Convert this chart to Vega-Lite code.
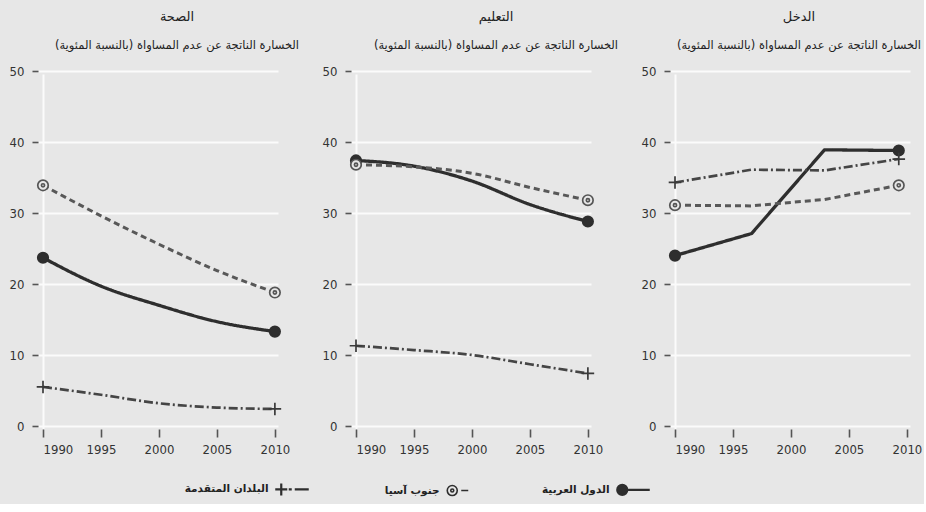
{
  "$schema": "https://vega.github.io/schema/vega-lite/v6.json",
  "background": "#e7e7e7",
  "padding": {"left": 9, "top": 10, "right": 2, "bottom": 4},
  "data": {"values": [
    {"panel": "الصحة", "year": 1990, "value": 23.7, "series": "الدول العربية"},
    {"panel": "الصحة", "year": 1995, "value": 19.7, "series": "الدول العربية"},
    {"panel": "الصحة", "year": 2000, "value": 17.0, "series": "الدول العربية"},
    {"panel": "الصحة", "year": 2005, "value": 14.7, "series": "الدول العربية"},
    {"panel": "الصحة", "year": 2010, "value": 13.3, "series": "الدول العربية"},
    {"panel": "الصحة", "year": 1990, "value": 33.9, "series": "جنوب آسيا"},
    {"panel": "الصحة", "year": 1995, "value": 29.6, "series": "جنوب آسيا"},
    {"panel": "الصحة", "year": 2000, "value": 25.6, "series": "جنوب آسيا"},
    {"panel": "الصحة", "year": 2005, "value": 21.9, "series": "جنوب آسيا"},
    {"panel": "الصحة", "year": 2010, "value": 18.8, "series": "جنوب آسيا"},
    {"panel": "الصحة", "year": 1990, "value": 5.5, "series": "البلدان المتقدمة"},
    {"panel": "الصحة", "year": 1995, "value": 4.4, "series": "البلدان المتقدمة"},
    {"panel": "الصحة", "year": 2000, "value": 3.2, "series": "البلدان المتقدمة"},
    {"panel": "الصحة", "year": 2005, "value": 2.6, "series": "البلدان المتقدمة"},
    {"panel": "الصحة", "year": 2010, "value": 2.4, "series": "البلدان المتقدمة"},
    {"panel": "التعليم", "year": 1990, "value": 37.4, "series": "الدول العربية"},
    {"panel": "التعليم", "year": 1995, "value": 36.6, "series": "الدول العربية"},
    {"panel": "التعليم", "year": 2000, "value": 34.5, "series": "الدول العربية"},
    {"panel": "التعليم", "year": 2005, "value": 31.2, "series": "الدول العربية"},
    {"panel": "التعليم", "year": 2010, "value": 28.8, "series": "الدول العربية"},
    {"panel": "التعليم", "year": 1990, "value": 36.8, "series": "جنوب آسيا"},
    {"panel": "التعليم", "year": 1995, "value": 36.5, "series": "جنوب آسيا"},
    {"panel": "التعليم", "year": 2000, "value": 35.6, "series": "جنوب آسيا"},
    {"panel": "التعليم", "year": 2005, "value": 33.6, "series": "جنوب آسيا"},
    {"panel": "التعليم", "year": 2010, "value": 31.8, "series": "جنوب آسيا"},
    {"panel": "التعليم", "year": 1990, "value": 11.3, "series": "البلدان المتقدمة"},
    {"panel": "التعليم", "year": 1995, "value": 10.7, "series": "البلدان المتقدمة"},
    {"panel": "التعليم", "year": 2000, "value": 10.0, "series": "البلدان المتقدمة"},
    {"panel": "التعليم", "year": 2005, "value": 8.7, "series": "البلدان المتقدمة"},
    {"panel": "التعليم", "year": 2010, "value": 7.4, "series": "البلدان المتقدمة"},
    {"panel": "الدخل", "year": 1990, "value": 24.0, "series": "الدول العربية"},
    {"panel": "الدخل", "year": 1996.6, "value": 27.1, "series": "الدول العربية"},
    {"panel": "الدخل", "year": 2002.9, "value": 38.9, "series": "الدول العربية"},
    {"panel": "الدخل", "year": 2009.3, "value": 38.8, "series": "الدول العربية"},
    {"panel": "الدخل", "year": 1990, "value": 31.1, "series": "جنوب آسيا"},
    {"panel": "الدخل", "year": 1996.6, "value": 31.0, "series": "جنوب آسيا"},
    {"panel": "الدخل", "year": 2002.9, "value": 31.9, "series": "جنوب آسيا"},
    {"panel": "الدخل", "year": 2009.3, "value": 33.9, "series": "جنوب آسيا"},
    {"panel": "الدخل", "year": 1990, "value": 34.3, "series": "البلدان المتقدمة"},
    {"panel": "الدخل", "year": 1996.6, "value": 36.1, "series": "البلدان المتقدمة"},
    {"panel": "الدخل", "year": 2002.9, "value": 36.0, "series": "البلدان المتقدمة"},
    {"panel": "الدخل", "year": 2009.3, "value": 37.6, "series": "البلدان المتقدمة"}
  ]},
  "hconcat": [
    {
      "title": {"text": "الصحة", "subtitle": "الخسارة الناتجة عن عدم المساواة (بالنسبة المئوية)", "dx": 14},
      "width": 240, "height": 355,
      "transform": [{"filter": "datum.panel === 'الصحة'"}],
      "layer": [
        {
          "mark": {"type": "line", "interpolate": "monotone"},
          "encoding": {
            "x": {"field": "year", "type": "quantitative", "scale": {"domain": [1990, 2010.7], "nice": false, "zero": false}, "axis": {"values": [1990, 1995, 2000, 2005, 2010], "format": "d", "title": null, "grid": true, "gridOpacity": {"condition": {"test": "datum.value === 1990", "value": 1}, "value": 0}}},
            "y": {"field": "value", "type": "quantitative", "scale": {"domain": [0, 50], "nice": false}, "axis": {"values": [0, 10, 20, 30, 40, 50], "title": null, "grid": true}},
            "color": {"field": "series", "type": "nominal", "scale": {"domain": ["الدول العربية", "جنوب آسيا", "البلدان المتقدمة"], "range": ["#2e2e2e", "#585858", "#454545"]}, "legend": null},
            "strokeDash": {"field": "series", "type": "nominal", "scale": {"domain": ["الدول العربية", "جنوب آسيا", "البلدان المتقدمة"], "range": [[1, 0], [6, 4], [9, 3, 2, 3]]}, "legend": null},
            "strokeWidth": {"field": "series", "type": "ordinal", "scale": {"domain": ["الدول العربية", "جنوب آسيا", "البلدان المتقدمة"], "range": [3.3, 2.7, 2.7]}, "legend": null}
          }
        },
        {
          "transform": [{"filter": "datum.year === 1990 || datum.year >= 2009"}],
          "mark": {"type": "point", "size": 110, "strokeWidth": 1.7, "opacity": 1},
          "encoding": {
            "x": {"field": "year", "type": "quantitative"},
            "y": {"field": "value", "type": "quantitative"},
            "shape": {"field": "series", "type": "nominal", "scale": {"domain": ["جنوب آسيا", "البلدان المتقدمة", "الدول العربية"], "range": ["M1,0A1,1 0 1,1 -1,0A1,1 0 1,1 1,0ZM0.3,0A0.3,0.3 0 1,1 -0.3,0A0.3,0.3 0 1,1 0.3,0Z", "M-1.2,0H1.2M0,-1.2V1.2", "circle"]}, "legend": null},
            "fill": {"field": "series", "type": "nominal", "scale": {"domain": ["البلدان المتقدمة", "جنوب آسيا", "الدول العربية"], "range": ["#454545", "#e7e7e7", "#2e2e2e"]},
              "legend": {"title": null, "orient": "bottom", "direction": "horizontal", "labelAlign": "right", "labelOffset": -18, "columnPadding": 70, "symbolSize": 100, "offset": 28,
                "labelFont": "DejaVu Sans", "labelFontSize": 10.5, "labelFontWeight": "bold", "labelColor": "#222",
                "encoding": {"symbols": {
                  "shape": {"value": {"expr": "datum.value === 'الدول العربية' ? 'M1,0A1,1 0 1,1 -1,0A1,1 0 1,1 1,0ZM1,0H5.5' : datum.value === 'جنوب آسيا' ? 'M1,0A1,1 0 1,1 -1,0A1,1 0 1,1 1,0ZM0.3,0A0.3,0.3 0 1,1 -0.3,0A0.3,0.3 0 1,1 0.3,0ZM1.8,0H3.2' : 'M-1.2,0H1.2M0,-1.2V1.2M1.5,0H2.1M2.7,0H5.5'"}},
                  "stroke": {"value": "#2e2e2e"},
                  "strokeWidth": {"value": {"expr": "datum.value === 'جنوب آسيا' ? 1.6 : 2.2"}},
                  "opacity": {"value": 1}
                }}
              }},
            "stroke": {"field": "series", "type": "nominal", "scale": {"domain": ["الدول العربية", "جنوب آسيا", "البلدان المتقدمة"], "range": ["#2e2e2e", "#555555", "#3a3a3a"]}, "legend": null}
          }
        }
      ]
    },
    {
      "title": {"text": "التعليم", "subtitle": "الخسارة الناتجة عن عدم المساواة (بالنسبة المئوية)", "dx": 20},
      "width": 240, "height": 355,
      "transform": [{"filter": "datum.panel === 'التعليم'"}],
      "layer": [
        {
          "mark": {"type": "line", "interpolate": "monotone"},
          "encoding": {
            "x": {"field": "year", "type": "quantitative", "scale": {"domain": [1990, 2010.7], "nice": false, "zero": false}, "axis": {"values": [1990, 1995, 2000, 2005, 2010], "format": "d", "title": null, "grid": true, "gridOpacity": {"condition": {"test": "datum.value === 1990", "value": 1}, "value": 0}}},
            "y": {"field": "value", "type": "quantitative", "scale": {"domain": [0, 50], "nice": false}, "axis": {"values": [0, 10, 20, 30, 40, 50], "title": null, "grid": true}},
            "color": {"field": "series", "type": "nominal", "scale": {"domain": ["الدول العربية", "جنوب آسيا", "البلدان المتقدمة"], "range": ["#2e2e2e", "#585858", "#454545"]}, "legend": null},
            "strokeDash": {"field": "series", "type": "nominal", "scale": {"domain": ["الدول العربية", "جنوب آسيا", "البلدان المتقدمة"], "range": [[1, 0], [6, 4], [9, 3, 2, 3]]}, "legend": null},
            "strokeWidth": {"field": "series", "type": "ordinal", "scale": {"domain": ["الدول العربية", "جنوب آسيا", "البلدان المتقدمة"], "range": [3.3, 2.7, 2.7]}, "legend": null}
          }
        },
        {
          "transform": [{"filter": "datum.year === 1990 || datum.year >= 2009"}],
          "mark": {"type": "point", "size": 110, "strokeWidth": 1.7, "opacity": 1},
          "encoding": {
            "x": {"field": "year", "type": "quantitative"},
            "y": {"field": "value", "type": "quantitative"},
            "shape": {"field": "series", "type": "nominal", "scale": {"domain": ["جنوب آسيا", "البلدان المتقدمة", "الدول العربية"], "range": ["M1,0A1,1 0 1,1 -1,0A1,1 0 1,1 1,0ZM0.3,0A0.3,0.3 0 1,1 -0.3,0A0.3,0.3 0 1,1 0.3,0Z", "M-1.2,0H1.2M0,-1.2V1.2", "circle"]}, "legend": null},
            "fill": {"field": "series", "type": "nominal", "scale": {"domain": ["البلدان المتقدمة", "جنوب آسيا", "الدول العربية"], "range": ["#454545", "#e7e7e7", "#2e2e2e"]}, "legend": null},
            "stroke": {"field": "series", "type": "nominal", "scale": {"domain": ["الدول العربية", "جنوب آسيا", "البلدان المتقدمة"], "range": ["#2e2e2e", "#555555", "#3a3a3a"]}, "legend": null}
          }
        }
      ]
    },
    {
      "title": {"text": "الدخل", "subtitle": "الخسارة الناتجة عن عدم المساواة (بالنسبة المئوية)", "dx": 4},
      "width": 240, "height": 355,
      "transform": [{"filter": "datum.panel === 'الدخل'"}],
      "layer": [
        {
          "mark": {"type": "line", "interpolate": "linear"},
          "encoding": {
            "x": {"field": "year", "type": "quantitative", "scale": {"domain": [1990, 2010.7], "nice": false, "zero": false}, "axis": {"values": [1990, 1995, 2000, 2005, 2010], "format": "d", "title": null, "grid": true, "gridOpacity": {"condition": {"test": "datum.value === 1990", "value": 1}, "value": 0}}},
            "y": {"field": "value", "type": "quantitative", "scale": {"domain": [0, 50], "nice": false}, "axis": {"values": [0, 10, 20, 30, 40, 50], "title": null, "grid": true}},
            "color": {"field": "series", "type": "nominal", "scale": {"domain": ["الدول العربية", "جنوب آسيا", "البلدان المتقدمة"], "range": ["#2e2e2e", "#585858", "#454545"]}, "legend": null},
            "strokeDash": {"field": "series", "type": "nominal", "scale": {"domain": ["الدول العربية", "جنوب آسيا", "البلدان المتقدمة"], "range": [[1, 0], [6, 4], [9, 3, 2, 3]]}, "legend": null},
            "strokeWidth": {"field": "series", "type": "ordinal", "scale": {"domain": ["الدول العربية", "جنوب آسيا", "البلدان المتقدمة"], "range": [3.3, 2.7, 2.7]}, "legend": null}
          }
        },
        {
          "transform": [{"filter": "datum.year === 1990 || datum.year >= 2009"}],
          "mark": {"type": "point", "size": 110, "strokeWidth": 1.7, "opacity": 1},
          "encoding": {
            "x": {"field": "year", "type": "quantitative"},
            "y": {"field": "value", "type": "quantitative"},
            "shape": {"field": "series", "type": "nominal", "scale": {"domain": ["جنوب آسيا", "البلدان المتقدمة", "الدول العربية"], "range": ["M1,0A1,1 0 1,1 -1,0A1,1 0 1,1 1,0ZM0.3,0A0.3,0.3 0 1,1 -0.3,0A0.3,0.3 0 1,1 0.3,0Z", "M-1.2,0H1.2M0,-1.2V1.2", "circle"]}, "legend": null},
            "fill": {"field": "series", "type": "nominal", "scale": {"domain": ["البلدان المتقدمة", "جنوب آسيا", "الدول العربية"], "range": ["#454545", "#e7e7e7", "#2e2e2e"]}, "legend": null},
            "stroke": {"field": "series", "type": "nominal", "scale": {"domain": ["الدول العربية", "جنوب آسيا", "البلدان المتقدمة"], "range": ["#2e2e2e", "#555555", "#3a3a3a"]}, "legend": null}
          }
        }
      ]
    }
  ],
  "config": {
    "concat": {"spacing": 22},
    "view": {"stroke": null, "fill": "#e7e7e7"},
    "legend": {"layout": {"bottom": {"anchor": "middle"}}},
    "title": {"font": "DejaVu Sans", "fontSize": 13, "fontWeight": "normal", "color": "#222", "anchor": "middle", "subtitleFont": "DejaVu Sans", "subtitleFontSize": 11.5, "subtitleColor": "#222", "subtitlePadding": 16, "offset": 14},
    "axis": {"domain": false, "labelFont": "Liberation Sans Narrow, DejaVu Sans Condensed, sans-serif", "labelFontSize": 13, "labelColor": "#333", "tickColor": "#555", "tickWidth": 1.6, "gridColor": "#fbfbfb", "gridWidth": 2},
    "axisX": {"offset": 3, "tickSize": 8, "labelPadding": 6},
    "axisY": {"offset": 5, "tickSize": 6, "labelPadding": 8}
  }
}
